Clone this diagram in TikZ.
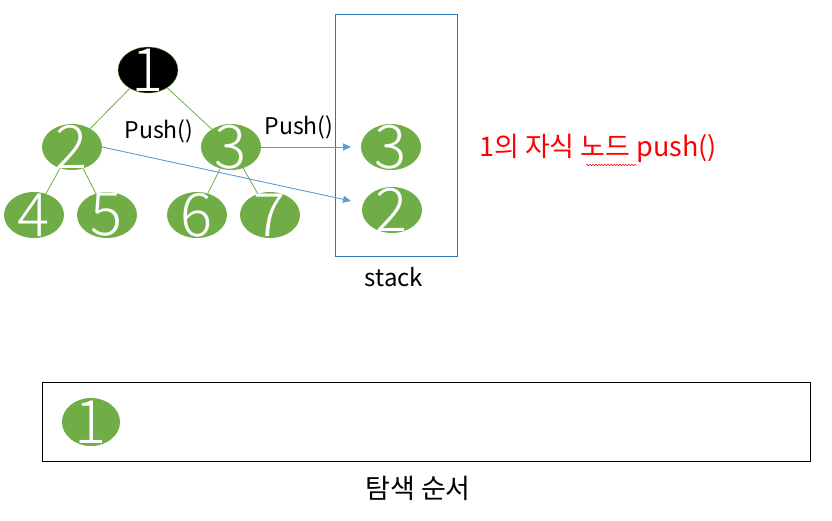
\documentclass[tikz,border=0pt]{standalone}
\usepackage{fontspec}
\setmainfont{Noto Sans CJK KR}
\newfontfamily\digitfont{Noto Sans CJK KR Light}
\usetikzlibrary{arrows.meta,shapes.geometric,decorations.pathmorphing}
\definecolor{leafgreen}{HTML}{70AD47}
\definecolor{pushblue}{HTML}{5B9BD5}
\definecolor{stackblue}{HTML}{2E75B6}

\begin{document}
\begin{tikzpicture}[x=1pt,y=-1pt,font=\fontsize{23}{26}\selectfont,
 vert/.style={ellipse,fill=leafgreen,minimum width=60pt,minimum height=46pt,inner sep=0pt},
 num/.style={text=white,inner sep=0pt,font=\digitfont\fontsize{60}{60}\selectfont},
 twig/.style={leafgreen,line width=.8pt},
 pusharrow/.style={pushblue,line width=.9pt,-{Triangle[length=8pt,width=7pt]}}]
 \useasboundingbox (0,0) rectangle (832,520);
 % tree
 \node[vert,fill=black,draw=leafgreen,label={[num]center:1}] (n1) at (148,70) {};
 \node[vert,label={[num]center:2}] (n2) at (72,147) {};
 \node[vert,label={[num]center:3}] (n3) at (231,147) {};
 \node[vert,label={[num]center:4}] (n4) at (34,215) {};
 \node[vert,label={[num]center:5}] (n5) at (107,215) {};
 \node[vert,label={[num]center:6}] (n6) at (197,215) {};
 \node[vert,label={[num]center:7}] (n7) at (270,215) {};
 \draw[twig] (n1)--(n2) (n1)--(n3) (n2)--(n4) (n2)--(n5) (n3)--(n6) (n3)--(n7);
 % stack
 \node[draw=stackblue,line width=.9pt,minimum width=122pt,minimum height=242pt,inner sep=0pt] (stack) at (396,135) {};
 \node[font=\fontsize{24}{26}\selectfont] (stacklbl) at (394,277) {stack};
 \node[vert,label={[num]center:3}] (s3) at (391,147) {};
 \node[vert,label={[num]center:2}] (s2) at (392,210) {};
 \coordinate (tip3) at (351,147);
 \coordinate (tip2) at (351,201);
 \draw[pusharrow] (n3.east)--(tip3);
 \draw[pusharrow] (n2.east)--(tip2);
 \node (push2) at (159,131) {Push()};
 \node (push3) at (299,127) {Push()};
 \node[text=red,font=\fontsize{27}{30}\selectfont] (note) at (598,148) {1의 자식 노드 push()};
 \draw[red,line width=.5pt,decorate,decoration={snake,amplitude=.8pt,segment length=3pt}] (586,165)--(637,165);
 % visit order
 \node[draw,line width=.9pt,minimum width=768pt,minimum height=79pt,inner sep=0pt] (order) at (426,421.5) {};
 \node[vert,minimum width=58pt,minimum height=48pt,label={[num]center:1}] (v1) at (91,422) {};
 \node[font=\fontsize{27}{30}\selectfont] (orderlbl) at (418,488) {탐색 순서};
\end{tikzpicture}
\end{document}
